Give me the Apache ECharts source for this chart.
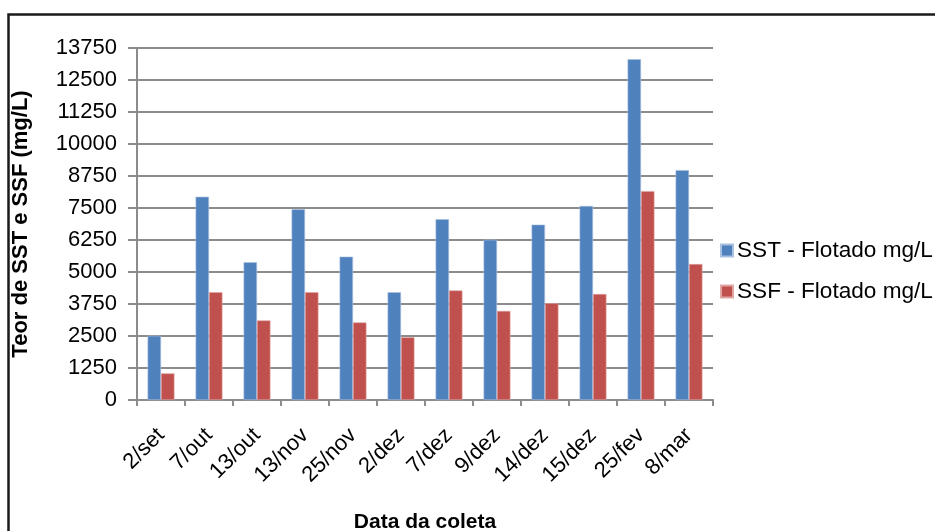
<!DOCTYPE html>
<html>
<head>
<meta charset="utf-8">
<script src="https://cdn.jsdelivr.net/npm/echarts@6/dist/echarts.min.js"></script>
<style>
  html, body { margin: 0; padding: 0; background: #fff; }
  #chart { width: 935px; height: 531px; }
</style>
</head>
<body>
<div id="chart"></div>
<script>
// Collection dates and measured suspended solids (mg/L)
const categories = ['2/set', '7/out', '13/out', '13/nov', '25/nov', '2/dez', '7/dez', '9/dez', '14/dez', '15/dez', '25/fev', '8/mar'];
const sstValues = [2510, 7940, 5380, 7450, 5600, 4210, 7060, 6260, 6850, 7580, 13310, 8980];
const ssfValues = [1040, 4210, 3110, 4210, 3030, 2450, 4280, 3480, 3780, 4140, 8160, 5310];
const seriesNames = ['SST - Flotado mg/L', 'SSF - Flotado mg/L'];
const yTicks = { min: 0, max: 13750, step: 1250 };

const FONT = "'Liberation Sans', Arial, sans-serif";
const chart = echarts.init(document.getElementById('chart'), null, { renderer: 'canvas' });

chart.setOption({
  animation: false,
  backgroundColor: '#ffffff',
  textStyle: { fontFamily: FONT },
  graphic: [{
    type: 'rect',
    shape: { x: 8.5, y: 14.5, width: 1200, height: 1200 },
    style: { fill: 'none', stroke: '#1a1a1a', lineWidth: 2.5 },
    silent: true
  }],
  grid: { left: 137, right: 222, top: 48, bottom: 131, outerBoundsMode: 'none', containLabel: false },
  legend: {
    orient: 'vertical',
    left: 720,
    top: 239,
    padding: 0,
    itemWidth: 12,
    itemHeight: 12,
    itemGap: 18,
    icon: 'rect',
    textStyle: { fontSize: 22.6, color: '#000', fontFamily: FONT, padding: [0, 0, 0, -1] },
    data: seriesNames
  },
  xAxis: {
    type: 'category',
    data: categories,
    name: 'Data da coleta',
    nameLocation: 'middle',
    nameGap: 112,
    nameMoveOverlap: false,
    nameTextStyle: { fontSize: 21, fontWeight: 'bold', color: '#000', fontFamily: FONT },
    axisLine: { lineStyle: { color: '#8c8c8c', width: 2 } },
    axisTick: { show: true, length: 6, lineStyle: { color: '#8c8c8c', width: 2 } },
    axisLabel: { rotate: 45, fontSize: 22, color: '#000', margin: 32, interval: 0, fontFamily: FONT },
    splitLine: { show: false }
  },
  yAxis: {
    type: 'value',
    min: yTicks.min,
    max: yTicks.max,
    interval: yTicks.step,
    name: 'Teor de SST e SSF (mg/L)',
    nameLocation: 'middle',
    nameGap: 105,
    nameRotate: 90,
    nameMoveOverlap: false,
    nameTextStyle: { fontSize: 22, fontWeight: 'bold', color: '#000', fontFamily: FONT },
    axisLine: { show: true, lineStyle: { color: '#8c8c8c', width: 2 } },
    axisTick: { show: true, length: 9, lineStyle: { color: '#8c8c8c', width: 2 } },
    axisLabel: { fontSize: 22, color: '#000', margin: 20, fontFamily: FONT, formatter: v => String(v) },
    splitLine: { show: true, lineStyle: { color: '#8c8c8c', width: 2 } }
  },
  series: [
    {
      name: seriesNames[0],
      type: 'bar',
      data: sstValues,
      barGap: '0%',
      barCategoryGap: '44%',
      itemStyle: { color: '#4F81BD', borderColor: '#a9c0e0', borderWidth: 0.6 }
    },
    {
      name: seriesNames[1],
      type: 'bar',
      data: ssfValues,
      barGap: '0%',
      barCategoryGap: '44%',
      itemStyle: { color: '#C0504D', borderColor: '#e0a6a4', borderWidth: 0.6 }
    }
  ]
});
</script>
</body>
</html>
